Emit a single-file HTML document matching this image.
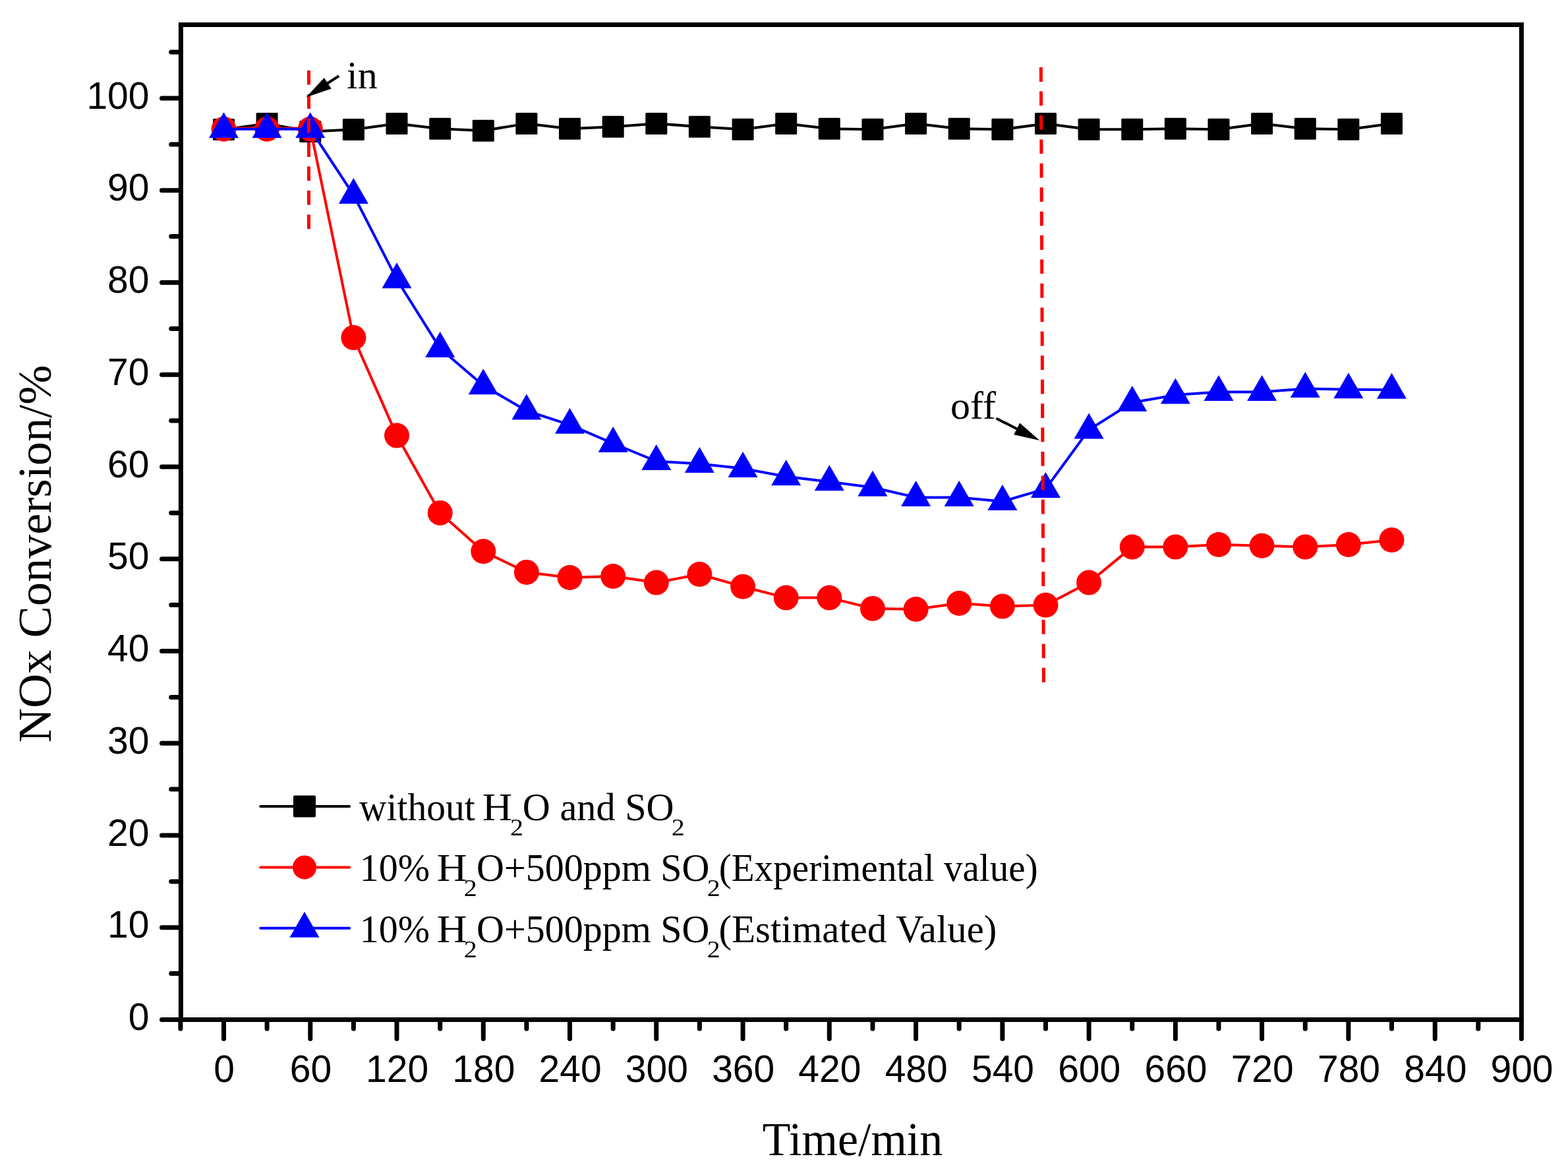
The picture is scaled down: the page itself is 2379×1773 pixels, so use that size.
<!DOCTYPE html><html><head><meta charset="utf-8"><title>NOx Conversion vs Time</title><style>html,body{margin:0;padding:0;background:#fff;}svg{display:block;}</style></head><body>
<svg width="2379" height="1773" viewBox="0 0 2379 1773">
<rect x="0" y="0" width="2379" height="1773" fill="#fff"/>
<path d="M273.9 1546.5V1560.3 M339.5 1546.5V1575.5 M405.1 1546.5V1560.3 M470.8 1546.5V1575.5 M536.4 1546.5V1560.3 M602.0 1546.5V1575.5 M667.7 1546.5V1560.3 M733.3 1546.5V1575.5 M798.9 1546.5V1560.3 M864.5 1546.5V1575.5 M930.2 1546.5V1560.3 M995.8 1546.5V1575.5 M1061.4 1546.5V1560.3 M1127.1 1546.5V1575.5 M1192.7 1546.5V1560.3 M1258.3 1546.5V1575.5 M1324.0 1546.5V1560.3 M1389.6 1546.5V1575.5 M1455.2 1546.5V1560.3 M1520.9 1546.5V1575.5 M1586.5 1546.5V1560.3 M1652.1 1546.5V1575.5 M1717.8 1546.5V1560.3 M1783.4 1546.5V1575.5 M1849.0 1546.5V1560.3 M1914.6 1546.5V1575.5 M1980.3 1546.5V1560.3 M2045.9 1546.5V1575.5 M2111.5 1546.5V1560.3 M2177.2 1546.5V1575.5 M2242.8 1546.5V1560.3 M2308.4 1546.5V1575.5 M274.4 1546.5H245.5 M274.4 1476.6H259.7 M274.4 1406.8H245.5 M274.4 1336.9H259.7 M274.4 1267.0H245.5 M274.4 1197.1H259.7 M274.4 1127.2H245.5 M274.4 1057.4H259.7 M274.4 987.5H245.5 M274.4 917.6H259.7 M274.4 847.8H245.5 M274.4 777.9H259.7 M274.4 708.0H245.5 M274.4 638.1H259.7 M274.4 568.2H245.5 M274.4 498.4H259.7 M274.4 428.5H245.5 M274.4 358.6H259.7 M274.4 288.8H245.5 M274.4 218.9H259.7 M274.4 149.0H245.5 M274.4 79.1H259.7" stroke="#000" stroke-width="7" stroke-linecap="round" fill="none"/>
<rect x="274.4" y="37.5" width="2034.0" height="1509.0" fill="none" stroke="#000" stroke-width="7"/>
<g font-family='"Liberation Sans", Arial, sans-serif' font-size="57" fill="#000">
<text x="340.1" y="1640.5" text-anchor="middle">0</text>
<text x="471.4" y="1640.5" text-anchor="middle">60</text>
<text x="602.6" y="1640.5" text-anchor="middle">120</text>
<text x="733.9" y="1640.5" text-anchor="middle">180</text>
<text x="865.1" y="1640.5" text-anchor="middle">240</text>
<text x="996.4" y="1640.5" text-anchor="middle">300</text>
<text x="1127.7" y="1640.5" text-anchor="middle">360</text>
<text x="1258.9" y="1640.5" text-anchor="middle">420</text>
<text x="1390.2" y="1640.5" text-anchor="middle">480</text>
<text x="1521.5" y="1640.5" text-anchor="middle">540</text>
<text x="1652.7" y="1640.5" text-anchor="middle">600</text>
<text x="1784.0" y="1640.5" text-anchor="middle">660</text>
<text x="1915.2" y="1640.5" text-anchor="middle">720</text>
<text x="2046.5" y="1640.5" text-anchor="middle">780</text>
<text x="2177.8" y="1640.5" text-anchor="middle">840</text>
<text x="2309.0" y="1640.5" text-anchor="middle">900</text>
<text x="226.5" y="1562.0" text-anchor="end">0</text>
<text x="226.5" y="1422.2" text-anchor="end">10</text>
<text x="226.5" y="1282.5" text-anchor="end">20</text>
<text x="226.5" y="1142.8" text-anchor="end">30</text>
<text x="226.5" y="1003.0" text-anchor="end">40</text>
<text x="226.5" y="863.2" text-anchor="end">50</text>
<text x="226.5" y="723.5" text-anchor="end">60</text>
<text x="226.5" y="583.8" text-anchor="end">70</text>
<text x="226.5" y="444.0" text-anchor="end">80</text>
<text x="226.5" y="304.2" text-anchor="end">90</text>
<text x="226.5" y="164.5" text-anchor="end">100</text>
</g>
<text transform="translate(1293.5 1751.9) scale(0.972 1)" text-anchor="middle" font-family='"Liberation Serif", "Times New Roman", serif' font-size="72">Time/min</text>
<text transform="translate(77 839.9) rotate(-90) scale(1.005 1)" text-anchor="middle" font-family='"Liberation Serif", "Times New Roman", serif' font-size="72">NOx Conversion/%</text>
<polyline points="339.5,196.4 405.1,187.6 470.8,199.5 536.4,196.5 602.0,187.5 667.7,195.3 733.3,198.2 798.9,187.4 864.5,195.3 930.2,192.2 995.8,187.4 1061.4,192.2 1127.1,196.3 1192.7,187.4 1258.3,195.3 1324.0,196.3 1389.6,187.4 1455.2,195.3 1520.9,196.3 1586.5,187.4 1652.1,196.3 1717.8,196.3 1783.4,195.3 1849.0,196.3 1914.6,187.4 1980.3,195.3 2045.9,196.3 2111.5,187.4" fill="none" stroke="#000" stroke-width="4" stroke-linejoin="round"/>
<g fill="#000"><rect x="323.0" y="179.9" width="33" height="33" rx="1.5"/><rect x="388.6" y="171.1" width="33" height="33" rx="1.5"/><rect x="454.3" y="183.0" width="33" height="33" rx="1.5"/><rect x="519.9" y="180.0" width="33" height="33" rx="1.5"/><rect x="585.5" y="171.0" width="33" height="33" rx="1.5"/><rect x="651.2" y="178.8" width="33" height="33" rx="1.5"/><rect x="716.8" y="181.7" width="33" height="33" rx="1.5"/><rect x="782.4" y="170.9" width="33" height="33" rx="1.5"/><rect x="848.0" y="178.8" width="33" height="33" rx="1.5"/><rect x="913.7" y="175.7" width="33" height="33" rx="1.5"/><rect x="979.3" y="170.9" width="33" height="33" rx="1.5"/><rect x="1044.9" y="175.7" width="33" height="33" rx="1.5"/><rect x="1110.6" y="179.8" width="33" height="33" rx="1.5"/><rect x="1176.2" y="170.9" width="33" height="33" rx="1.5"/><rect x="1241.8" y="178.8" width="33" height="33" rx="1.5"/><rect x="1307.5" y="179.8" width="33" height="33" rx="1.5"/><rect x="1373.1" y="170.9" width="33" height="33" rx="1.5"/><rect x="1438.7" y="178.8" width="33" height="33" rx="1.5"/><rect x="1504.4" y="179.8" width="33" height="33" rx="1.5"/><rect x="1570.0" y="170.9" width="33" height="33" rx="1.5"/><rect x="1635.6" y="179.8" width="33" height="33" rx="1.5"/><rect x="1701.3" y="179.8" width="33" height="33" rx="1.5"/><rect x="1766.9" y="178.8" width="33" height="33" rx="1.5"/><rect x="1832.5" y="179.8" width="33" height="33" rx="1.5"/><rect x="1898.1" y="170.9" width="33" height="33" rx="1.5"/><rect x="1963.8" y="178.8" width="33" height="33" rx="1.5"/><rect x="2029.4" y="179.8" width="33" height="33" rx="1.5"/><rect x="2095.0" y="170.9" width="33" height="33" rx="1.5"/></g>
<polyline points="339.5,194.6 405.1,194.6 470.8,194.8 536.4,512.1 602.0,660.6 667.7,777.9 733.3,836.3 798.9,867.9 864.5,876.0 930.2,874.0 995.8,883.6 1061.4,871.0 1127.1,889.7 1192.7,906.6 1258.3,906.6 1324.0,922.9 1389.6,924.0 1455.2,915.0 1520.9,919.6 1586.5,917.7 1652.1,883.6 1717.8,829.6 1783.4,829.6 1849.0,826.0 1914.6,827.7 1980.3,829.6 2045.9,826.0 2111.5,819.0" fill="none" stroke="#f00" stroke-width="4" stroke-linejoin="round"/>
<g fill="#f00"><circle cx="339.5" cy="195.8" r="19"/><circle cx="405.1" cy="195.8" r="19"/><circle cx="470.8" cy="195.8" r="19"/><circle cx="536.4" cy="512.1" r="19"/><circle cx="602.0" cy="660.6" r="19"/><circle cx="667.7" cy="777.9" r="19"/><circle cx="733.3" cy="836.3" r="19"/><circle cx="798.9" cy="867.9" r="19"/><circle cx="864.5" cy="876.0" r="19"/><circle cx="930.2" cy="874.0" r="19"/><circle cx="995.8" cy="883.6" r="19"/><circle cx="1061.4" cy="871.0" r="19"/><circle cx="1127.1" cy="889.7" r="19"/><circle cx="1192.7" cy="906.6" r="19"/><circle cx="1258.3" cy="906.6" r="19"/><circle cx="1324.0" cy="922.9" r="19"/><circle cx="1389.6" cy="924.0" r="19"/><circle cx="1455.2" cy="915.0" r="19"/><circle cx="1520.9" cy="919.6" r="19"/><circle cx="1586.5" cy="917.7" r="19"/><circle cx="1652.1" cy="883.6" r="19"/><circle cx="1717.8" cy="829.6" r="19"/><circle cx="1783.4" cy="829.6" r="19"/><circle cx="1849.0" cy="826.0" r="19"/><circle cx="1914.6" cy="827.7" r="19"/><circle cx="1980.3" cy="829.6" r="19"/><circle cx="2045.9" cy="826.0" r="19"/><circle cx="2111.5" cy="819.0" r="19"/></g>
<polyline points="339.5,195.8 405.1,195.8 470.8,195.8 536.4,295.6 602.0,423.7 667.7,528.5 733.3,584.7 798.9,623.0 864.5,644.3 930.2,672.5 995.8,699.5 1061.4,703.6 1127.1,710.6 1192.7,722.8 1258.3,730.7 1324.0,739.3 1389.6,754.4 1455.2,754.4 1520.9,760.5 1586.5,741.4 1652.1,651.9 1717.8,610.5 1783.4,599.1 1849.0,594.5 1914.6,594.5 1980.3,589.5 2045.9,590.8 2111.5,591.3" fill="none" stroke="#00f" stroke-width="4" stroke-linejoin="round"/>
<g fill="#00f"><path d="M339.5 170.3L362.0 209.3H317.0Z"/><path d="M405.1 170.3L427.6 209.3H382.6Z"/><path d="M470.8 170.3L493.3 209.3H448.3Z"/><path d="M536.4 270.1L558.9 309.1H513.9Z"/><path d="M602.0 398.2L624.5 437.2H579.5Z"/><path d="M667.7 503.0L690.2 542.0H645.2Z"/><path d="M733.3 559.2L755.8 598.2H710.8Z"/><path d="M798.9 597.5L821.4 636.5H776.4Z"/><path d="M864.5 618.8L887.0 657.8H842.0Z"/><path d="M930.2 647.0L952.7 686.0H907.7Z"/><path d="M995.8 674.0L1018.3 713.0H973.3Z"/><path d="M1061.4 678.1L1083.9 717.1H1038.9Z"/><path d="M1127.1 685.1L1149.6 724.1H1104.6Z"/><path d="M1192.7 697.3L1215.2 736.3H1170.2Z"/><path d="M1258.3 705.2L1280.8 744.2H1235.8Z"/><path d="M1324.0 713.8L1346.5 752.8H1301.5Z"/><path d="M1389.6 728.9L1412.1 767.9H1367.1Z"/><path d="M1455.2 728.9L1477.7 767.9H1432.7Z"/><path d="M1520.9 735.0L1543.4 774.0H1498.4Z"/><path d="M1586.5 715.9L1609.0 754.9H1564.0Z"/><path d="M1652.1 626.4L1674.6 665.4H1629.6Z"/><path d="M1717.8 585.0L1740.3 624.0H1695.3Z"/><path d="M1783.4 573.6L1805.9 612.6H1760.9Z"/><path d="M1849.0 569.0L1871.5 608.0H1826.5Z"/><path d="M1914.6 569.0L1937.1 608.0H1892.1Z"/><path d="M1980.3 564.0L2002.8 603.0H1957.8Z"/><path d="M2045.9 565.3L2068.4 604.3H2023.4Z"/><path d="M2111.5 565.8L2134.0 604.8H2089.0Z"/></g>
<g stroke="#f00" stroke-width="5" fill="none" stroke-dasharray="21.8 14.63">
<path d="M468.5 106.8V347.8"/>
<path d="M1579.4 102.1L1583.5 1034.7"/>
</g>
<path d="M514.2 115.2L495.5 127.3" stroke="#000" stroke-width="4"/><path d="M464.5 147.5L491.8 117.9L502.7 134.6Z" fill="#000"/>
<path d="M1511.5 634.5L1544.5 651.3" stroke="#000" stroke-width="4"/><path d="M1577.5 668.0L1538.2 659.3L1547.2 641.4Z" fill="#000"/>
<g font-family='"Liberation Serif", "Times New Roman", serif' font-size="60" fill="#000">
<text x="526" y="133.7">in</text>
<text x="1442" y="634.9">off</text>
</g>
<path d="M395.2 1223.0H530.1" stroke="#000" stroke-width="4" stroke-linecap="round"/>
<rect x="445.0" y="1206.5" width="34" height="33" rx="2" fill="#000"/>
<path d="M395.2 1315.5H530.1" stroke="#f00" stroke-width="4" stroke-linecap="round"/>
<circle cx="462.0" cy="1315.5" r="18" fill="#f00"/>
<path d="M395.2 1407.7H530.1" stroke="#00f" stroke-width="4" stroke-linecap="round"/>
<path d="M462.0 1382.7L484.5 1421.7H439.5Z" fill="#00f"/>
<g font-family='"Liberation Serif", "Times New Roman", serif' fill="#000">
<text transform="translate(545.10 1244.20) scale(0.9826 1)" font-size="58.5">without</text>
<text transform="translate(731.75 1244.20) scale(1.0769 1)" font-size="58.5">H</text>
<text transform="translate(773.94 1267.20) scale(1.1286 1)" font-size="35.5">2</text>
<text transform="translate(792.81 1244.20) scale(0.9960 1)" font-size="58.5">O and SO</text>
<text transform="translate(1018.84 1267.20) scale(1.1286 1)" font-size="35.5">2</text>
<text transform="translate(545.74 1336.20) scale(0.9920 1)" font-size="58.5">10%</text>
<text transform="translate(662.83 1336.20) scale(1.0846 1)" font-size="58.5">H</text>
<text transform="translate(703.84 1359.20) scale(1.1286 1)" font-size="35.5">2</text>
<text transform="translate(723.02 1336.20) scale(0.9920 1)" font-size="58.5">O+500ppm SO</text>
<text transform="translate(1072.74 1359.20) scale(1.1286 1)" font-size="35.5">2</text>
<text transform="translate(1090.67 1336.20) scale(0.9773 1)" font-size="58.5">(Experimental value)</text>
<text transform="translate(545.74 1428.70) scale(0.9920 1)" font-size="58.5">10%</text>
<text transform="translate(662.83 1428.70) scale(1.0846 1)" font-size="58.5">H</text>
<text transform="translate(703.84 1451.70) scale(1.1286 1)" font-size="35.5">2</text>
<text transform="translate(723.02 1428.70) scale(0.9920 1)" font-size="58.5">O+500ppm SO</text>
<text transform="translate(1072.74 1451.70) scale(1.1286 1)" font-size="35.5">2</text>
<text transform="translate(1090.58 1428.70) scale(1.0053 1)" font-size="58.5">(Estimated Value)</text>
</g>
</svg></body></html>
